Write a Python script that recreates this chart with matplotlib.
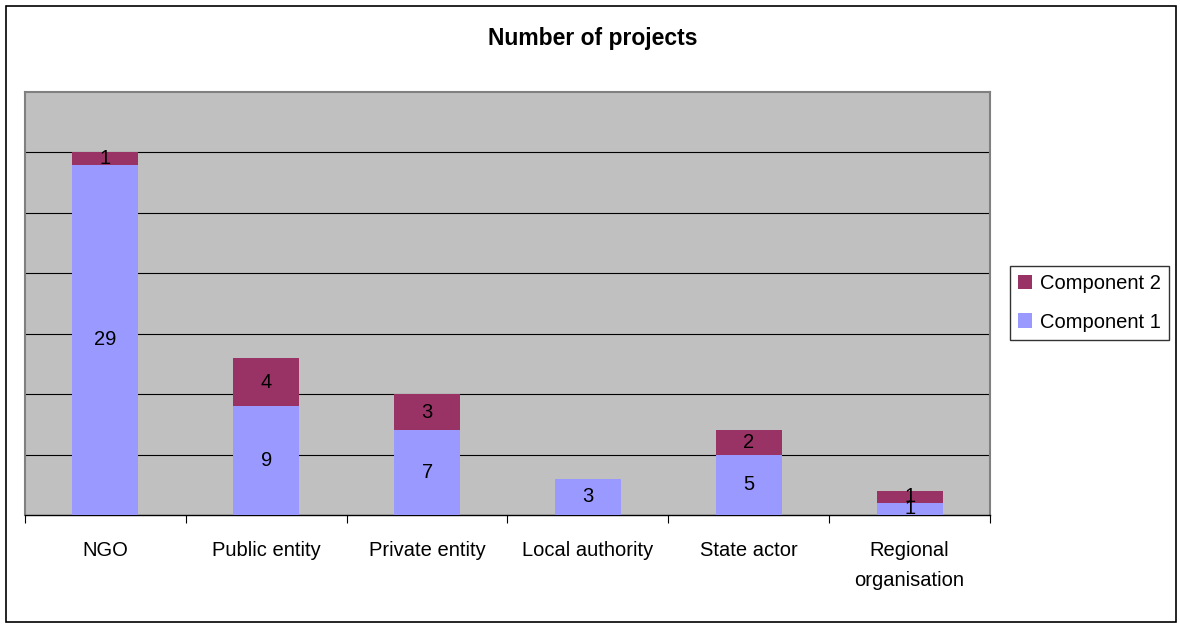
import matplotlib
matplotlib.use("Agg")
import matplotlib.pyplot as plt
import numpy as np

categories = ["NGO", "Public entity", "Private entity", "Local authority",
              "State actor", "Regional\norganisation"]
component1 = [29, 9, 7, 3, 5, 1]
component2 = [1, 4, 3, 0, 2, 1]

c1_color = "#9999FF"
c2_color = "#993366"

plt.rcParams['font.family'] = ['Liberation Sans', 'DejaVu Sans']

fig = plt.figure(figsize=(11.8, 6.28), dpi=100)
ax = fig.add_axes([25 / 1180, 1 - 515 / 628, 965 / 1180, 423 / 628])
ax.set_facecolor("#C0C0C0")

x = np.arange(len(categories))
b1 = ax.bar(x, component1, width=0.41, color=c1_color, label="Component 1", zorder=3)
b2 = ax.bar(x, component2, width=0.41, bottom=component1, color=c2_color,
            label="Component 2", zorder=3)

for i in range(len(categories)):
    if component1[i] > 0:
        ax.text(x[i], component1[i] / 2, str(component1[i]), ha="center",
                va="center", fontsize=14.5, zorder=4)
    if component2[i] > 0:
        ax.text(x[i], component1[i] + component2[i] / 2, str(component2[i]),
                ha="center", va="center", fontsize=14.5, zorder=4)

ax.set_xlim(-0.5, len(categories) - 0.5)
ax.set_ylim(0, 35)
ax.set_yticks(np.arange(5, 35, 5))
ax.yaxis.grid(True, color="black", linewidth=0.8, zorder=1)
ax.tick_params(axis="y", left=False, labelleft=False)

ax.set_xticks(x)
ax.set_xticklabels(categories, fontsize=14.5, linespacing=1.7)
ax.tick_params(axis="x", length=0, pad=19)
ax.set_xticks(np.arange(-0.5, len(categories), 1), minor=True)
ax.tick_params(axis="x", which="minor", length=6, color="black", width=0.8)

for s in ["top", "left", "right"]:
    ax.spines[s].set_color("#808080")
    ax.spines[s].set_linewidth(1.5)
ax.spines["bottom"].set_color("black")
ax.spines["bottom"].set_linewidth(1)

fig.text(593 / 1180, 1 - 38 / 628, "Number of projects", ha="center",
         va="center", fontsize=16.5, fontweight="bold")

handles = [b2, b1]
leg = fig.legend(handles, ["Component 2", "Component 1"],
                 loc="center left", bbox_to_anchor=(1010 / 1180, 1 - 303 / 628),
                 fontsize=14.5, frameon=True, fancybox=False, handlelength=0.7,
                 handleheight=0.7, handletextpad=0.4, borderpad=0.4,
                 labelspacing=0.95, borderaxespad=0)
leg.get_frame().set_edgecolor("black")
leg.get_frame().set_linewidth(1)

border = plt.Rectangle((6 / 1180, 6 / 628), 1170 / 1180, 616 / 628,
                       transform=fig.transFigure, fill=False,
                       edgecolor="black", linewidth=1.2)
fig.patches.append(border)

fig.savefig("out.png", dpi=100)
